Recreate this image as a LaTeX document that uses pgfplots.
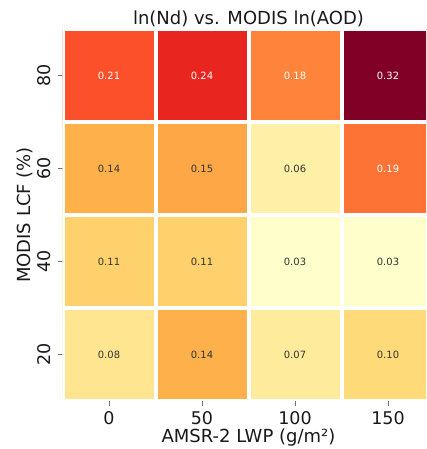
\documentclass[border=0pt]{standalone}
\usepackage{pgfplots}
\usepackage{pgfplotstable}
\usepackage{fontspec}
\setmainfont{DejaVu Sans}
\pgfplotsset{compat=1.18}

% Mean ln(Nd) sensitivity per LWP bin (x) and LCF bin (y)
\pgfplotstableread{
x y v
0 0 0.08
1 0 0.14
2 0 0.07
3 0 0.10
0 1 0.11
1 1 0.11
2 1 0.03
3 1 0.03
0 2 0.14
1 2 0.15
2 2 0.06
3 2 0.19
0 3 0.21
1 3 0.24
2 3 0.18
3 3 0.32
}\lcfdata

\pgfplotsset{
  colormap={YlOrRd}{
    rgb255=(255,255,204) rgb255=(255,237,160) rgb255=(254,217,118)
    rgb255=(254,178,76)  rgb255=(253,141,60)  rgb255=(252,78,42)
    rgb255=(227,26,28)   rgb255=(189,0,38)    rgb255=(128,0,38)},
  cell label/.style={
    only marks, mark=*, mark size=0pt,
    mark options={draw=none, fill=none},
    point meta=\thisrow{v}, unbounded coords=discard,
    nodes near coords={\pgfmathprintnumber[fixed,zerofill,precision=2]{\pgfplotspointmeta}},
    nodes near coords style={anchor=center, font=\fontsize{10}{12}\selectfont,
      text=#1, text opacity=1},
  },
}

\begin{document}
\begin{tikzpicture}
\useasboundingbox (0,0) rectangle (426pt,449pt);
\clip (0,0) rectangle (426pt,449pt);
\begin{axis}[
  at={(62.5pt,48pt)}, anchor=south west,
  scale only axis, width=372pt, height=372pt,
  xmin=-0.5, xmax=3.5, ymin=-0.5, ymax=3.5,
  colormap name=YlOrRd,
  axis line style={draw=none},
  xtick={0,1,2,3}, xticklabels={0,50,100,150},
  ytick={0,1,2,3}, yticklabels={20,40,60,80},
  xtick pos=bottom, ytick pos=left,
  tick align=outside, major tick length=5pt,
  tick style={draw=black!55, line width=0.8pt},
  /pgf/number format/assume math mode=true,
  ticklabel style={font=\fontsize{17.5}{20}\selectfont, text=black!90},
  xticklabel style={anchor=base, yshift=-18.5pt},
  yticklabel style={rotate=90},
  yticklabel shift=3.7pt,
  label style={font=\fontsize{18}{21}\selectfont, text=black!90},
  xlabel={AMSR-2 LWP (g/m²)},
  xlabel style={at={(axis description cs:0.5,-0.1129)}, anchor=base},
  ylabel={MODIS LCF (\%)},
  ylabel style={at={(axis description cs:-0.0847,0.5)}, anchor=base},
  title={ln(Nd) vs. MODIS ln(AOD)},
  title style={at={(axis description cs:0.5,1.0108)}, anchor=base, yshift=-6pt,
    font=\fontsize{18}{21}\selectfont, text=black!90},
]
\addplot[matrix plot*, draw=none, mesh/cols=4, point meta=explicit,
  point meta min=0.03, point meta max=0.32]
  table[x=x, y=y, meta=v] {\lcfdata};

% white separators between the cells
\pgfplotsinvokeforeach{-0.5,0.5,1.5,2.5,3.5}{
  \draw[white, line width=4pt] (axis cs:#1,-0.6) -- (axis cs:#1,3.6);
  \draw[white, line width=4pt] (axis cs:-0.6,#1) -- (axis cs:3.6,#1);
}

% cell annotations: light text on the dark cells, dark text elsewhere
\addplot[cell label=white,
  x filter/.expression={\thisrow{v}>0.165 ? x : nan}]
  table[x=x, y=y] {\lcfdata};
\addplot[cell label=black!80,
  x filter/.expression={\thisrow{v}>0.165 ? nan : x}]
  table[x=x, y=y] {\lcfdata};
\end{axis}
\end{tikzpicture}
\end{document}
